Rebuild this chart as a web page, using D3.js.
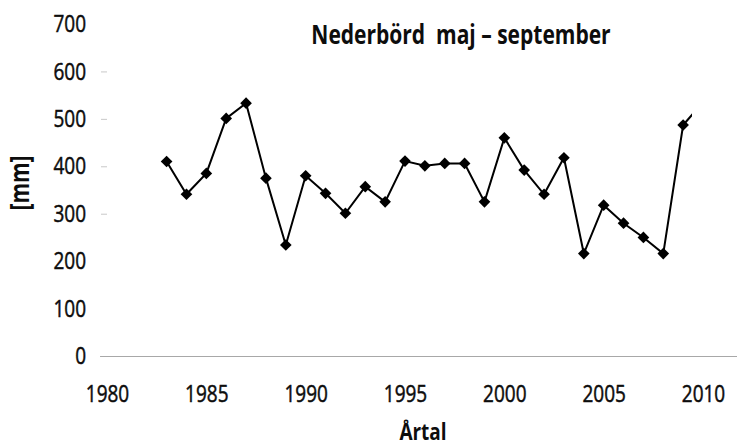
<!DOCTYPE html>
<html>
<head>
<meta charset="utf-8">
<script src="https://cdn.jsdelivr.net/npm/d3@7"></script>
<style>
  body { margin: 0; background: #fff; }
  text { font-family: "Open Sans", "Noto Sans", sans-serif; fill: #0d0d0d; }
</style>
</head>
<body>
<div id="chart"></div>
<script>
// Data
var years = [1983, 1984, 1985, 1986, 1987, 1988, 1989, 1990, 1991, 1992, 1993, 1994, 1995, 1996,
  1997, 1998, 1999, 2000, 2001, 2002, 2003, 2004, 2005, 2006, 2007, 2008, 2009, 2010];
var rain = [410, 341, 385, 501, 533, 375, 234, 380, 343, 301, 357, 325, 411, 401,
  406, 406, 325, 460, 392, 341, 418, 216, 318, 280, 250, 216, 487, 535];
var xTicks = [1980, 1985, 1990, 1995, 2000, 2005, 2010];
var yTicks = [0, 100, 200, 300, 400, 500, 600, 700];
var faintTicks = [300, 400, 500, 600];

var svgWidth = 737;
var svgHeight = 446;
var k = 1.25; // vertical stretch of the text in the picture

var svg = d3.select("#chart")
  .append("svg")
  .attr("width", svgWidth)
  .attr("height", svgHeight);

// Scales
var xScale = d3.scaleLinear().domain([1980, 2010]).range([107, 703]);
var yScale = d3.scaleLinear().domain([0, 700]).range([356, 24]);

// faint y ticks
var faint = svg.append("g")
  .attr("transform", `translate(${xScale(1980)}, 0)`)
  .call(d3.axisLeft(yScale).tickValues(faintTicks).tickSize(6).tickFormat(""));
faint.select(".domain").remove();
faint.selectAll("line").attr("stroke", "#c8c8c8");

// y axis labels
var yAxis = svg.append("g")
  .attr("transform", `translate(86, 0)`)
  .call(d3.axisLeft(yScale).tickValues(yTicks).tickSize(0).tickPadding(0));
yAxis.select(".domain").remove();
yAxis.selectAll("text")
  .attr("font-size", 19)
  .attr("font-family", "Open Sans")
  .attr("fill", "#0d0d0d")
  .attr("stroke", "#0d0d0d")
  .attr("stroke-width", 0.4)
  .attr("transform", `scale(1, ${k})`);

// x axis
var xAxis = svg.append("g")
  .attr("transform", `translate(0, ${yScale(0)})`)
  .call(d3.axisBottom(xScale).tickValues(xTicks).tickSize(0).tickFormat(d3.format("d")));
xAxis.select(".domain").remove();
xAxis.selectAll("text")
  .attr("font-size", 19)
  .attr("font-family", "Open Sans")
  .attr("fill", "#0d0d0d")
  .attr("stroke", "#0d0d0d")
  .attr("stroke-width", 0.4)
  .attr("y", 46 / k)
  .attr("dy", 0)
  .attr("transform", `scale(1, ${k})`);

svg.append("line")
  .attr("x1", xScale(1979.65))
  .attr("x2", svgWidth)
  .attr("y1", yScale(0) + 0.5)
  .attr("y2", yScale(0) + 0.5)
  .attr("stroke", "#a8a8a8")
  .attr("stroke-width", 1.2);

// clip, the picture cuts off the last segment
svg.append("clipPath").attr("id", "clip")
  .append("rect")
  .attr("x", 0).attr("y", 0)
  .attr("width", xScale(2009.45)).attr("height", svgHeight);

var points = years.map((y, i) => ({ year: y, value: rain[i] }));

var plot = svg.append("g").attr("clip-path", "url(#clip)");

plot.append("path")
  .datum(points)
  .attr("fill", "none")
  .attr("stroke", "#000")
  .attr("stroke-width", 2)
  .attr("d", d3.line().x(d => xScale(d.year)).y(d => yScale(d.value)));

plot.selectAll(".marker")
  .data(points)
  .enter()
  .append("path")
  .attr("class", "marker")
  .attr("d", d3.symbol().type(d3.symbolSquare).size(68))
  .attr("transform", d => `translate(${xScale(d.year)}, ${yScale(d.value)}) rotate(45)`)
  .attr("fill", "#000");

// Titles
svg.append("text")
  .attr("transform", `translate(461, 44) scale(1, ${k})`)
  .attr("text-anchor", "middle")
  .attr("font-size", 21)
  .attr("font-weight", "bold")
  .style("white-space", "pre")
  .text("Nederbörd  maj – september");

svg.append("text")
  .attr("transform", `translate(423, 440) scale(1, ${k})`)
  .attr("text-anchor", "middle")
  .attr("font-size", 19)
  .attr("font-weight", "bold")
  .text("Årtal");

svg.append("text")
  .attr("transform", `translate(20, 183) rotate(-90) scale(1, ${k})`)
  .attr("text-anchor", "middle")
  .attr("dy", "0.35em")
  .attr("font-size", 21)
  .attr("font-weight", "bold")
  .text("[mm]");
</script>
</body>
</html>
